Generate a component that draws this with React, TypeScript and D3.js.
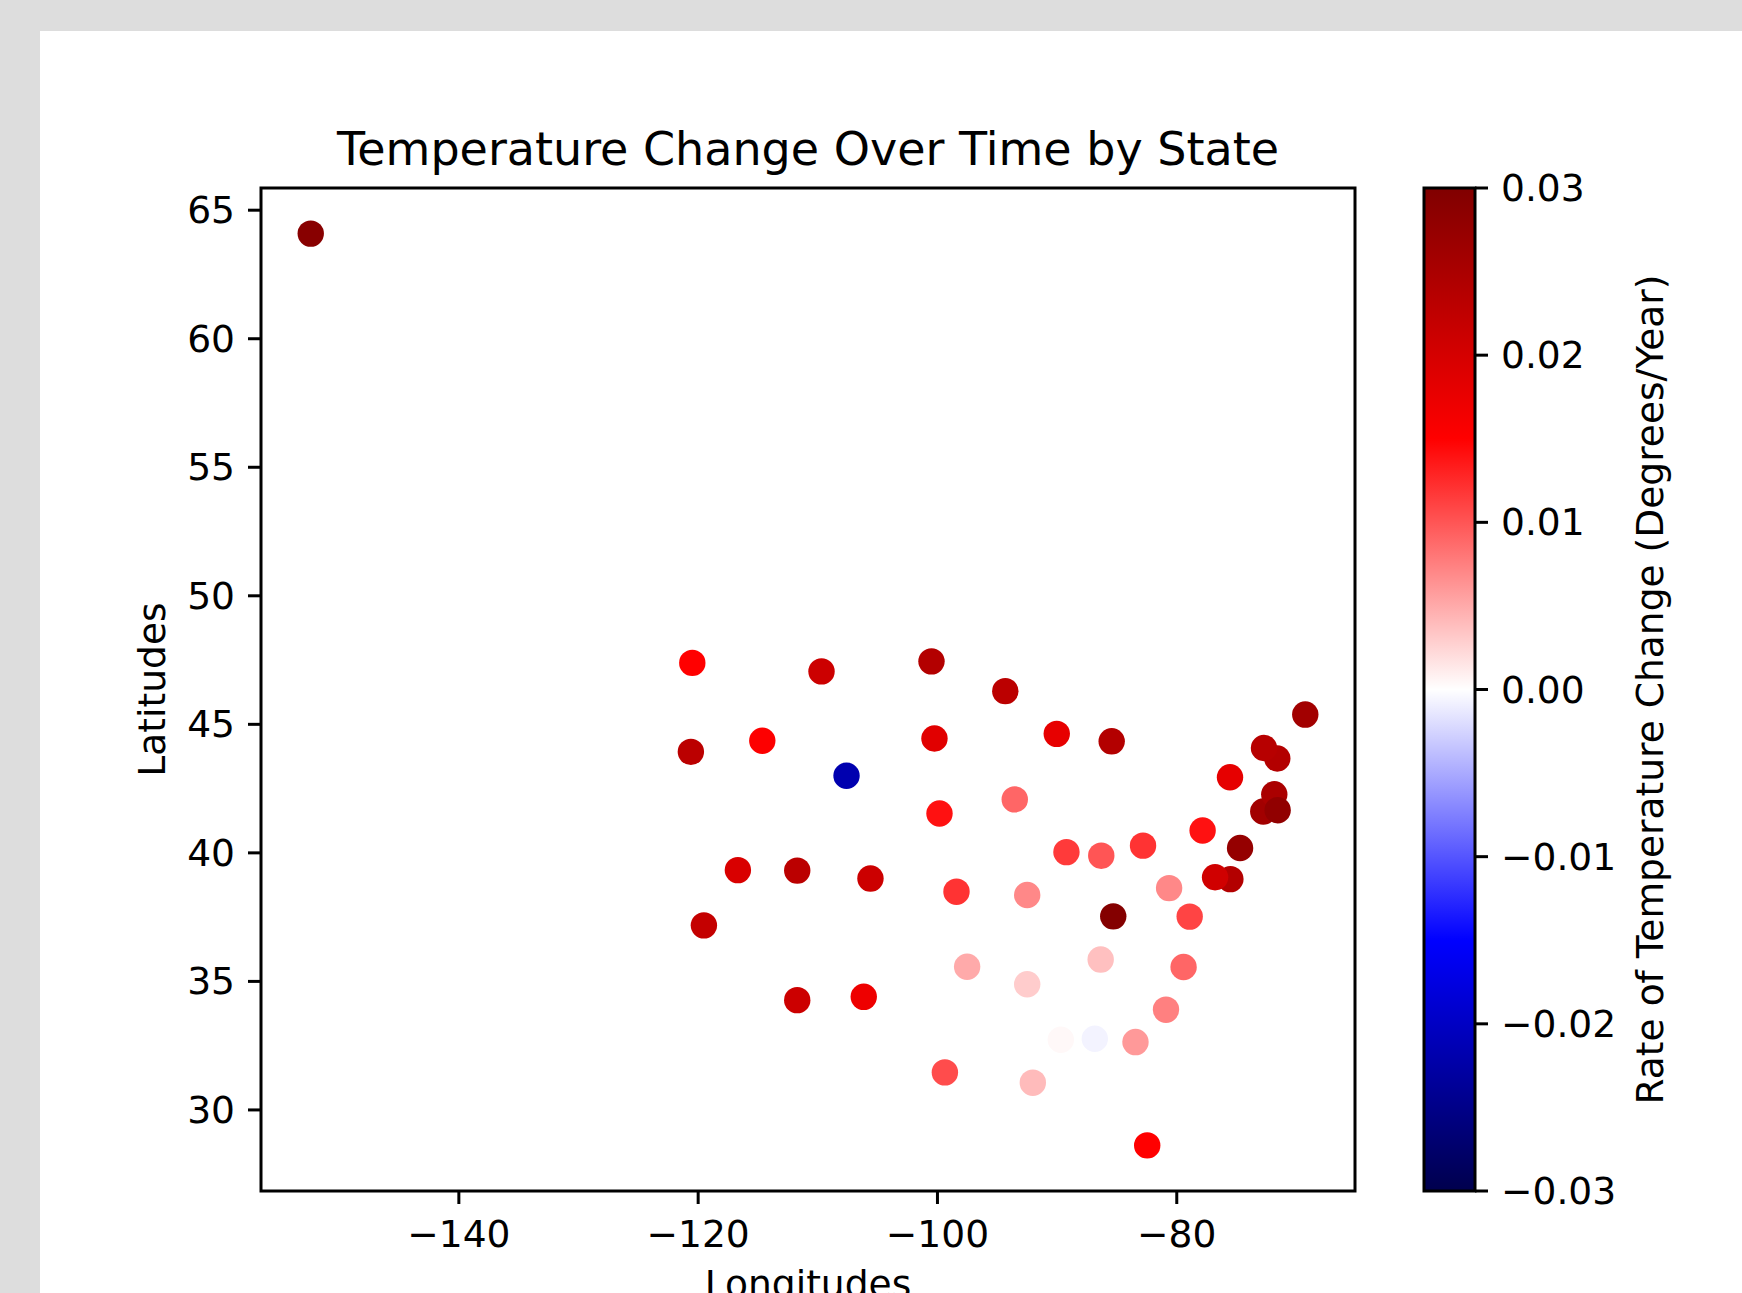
import { extent, scaleLinear } from "d3"

const states = [
  "Alabama", "Alaska", "Arizona", "Arkansas", "California", "Colorado", "Connecticut",
  "Delaware", "Florida", "Georgia", "Idaho", "Illinois", "Indiana", "Iowa", "Kansas",
  "Kentucky", "Louisiana", "Maine", "Maryland", "Massachusetts", "Michigan", "Minnesota",
  "Mississippi", "Missouri", "Montana", "Nebraska", "Nevada", "New Hampshire", "New Jersey",
  "New Mexico", "New York", "North Carolina", "North Dakota", "Ohio", "Oklahoma", "Oregon",
  "Pennsylvania", "Rhode Island", "South Carolina", "South Dakota", "Tennessee", "Texas",
  "Utah", "Vermont", "Virginia", "Washington", "West Virginia", "Wisconsin", "Wyoming"
]
const lons = [
  -86.85, -152.38, -111.72, -92.5, -119.52, -105.6, -72.77,
  -75.52, -82.47, -83.45, -114.64, -89.22, -86.31, -93.54, -98.41,
  -85.31, -92.03, -69.26, -76.8, -71.85, -85.44, -94.33,
  -89.69, -92.5, -109.69, -99.83, -116.68, -71.6, -74.71,
  -106.16, -75.55, -79.43, -100.5, -82.82, -97.52, -120.61,
  -77.84, -71.57, -80.9, -100.25, -86.36, -99.38,
  -111.72, -72.71, -78.92, -120.49, -80.64, -90.03, -107.6
]
const lats = [
  32.77, 64.09, 34.27, 34.89, 37.18, 39.0, 41.61,
  38.98, 28.62, 32.64, 44.36, 40.03, 39.89, 42.08, 38.49,
  37.53, 31.06, 45.38, 39.05, 42.28, 44.34, 46.29,
  32.73, 38.36, 47.06, 41.53, 39.33, 43.67, 40.19,
  34.4, 42.94, 35.56, 47.45, 40.28, 35.57, 43.93,
  40.87, 41.66, 33.9, 44.45, 35.85, 31.46,
  39.31, 44.08, 37.52, 47.39, 38.63, 44.63, 43.0
]
const rates = [
  -0.0007, 0.029, 0.021, 0.003, 0.022, 0.021, 0.026,
  0.024, 0.015, 0.006, 0.0152, 0.0116, 0.01, 0.009, 0.012,
  0.0295, 0.004, 0.026, 0.0205, 0.025, 0.024, 0.023,
  0.0004, 0.007, 0.021, 0.014, 0.0195, 0.024, 0.0275,
  0.017, 0.018, 0.009, 0.024, 0.012, 0.005, 0.023,
  0.014, 0.028, 0.0075, 0.0185, 0.0037, 0.0105,
  0.023, 0.0235, 0.011, 0.015, 0.007, 0.0178, -0.0217
]

const xTicks = [-140, -120, -100, -80]
const yTicks = [30, 35, 40, 45, 50, 55, 60, 65]
const cbarTicks = [-0.03, -0.02, -0.01, 0.0, 0.01, 0.02, 0.03]

// matplotlib "seismic"
const seismicDomain = [-0.03, -0.015, 0, 0.015, 0.03]
const seismicColors = ["rgb(0,0,77)", "rgb(0,0,255)", "rgb(255,255,255)", "rgb(255,0,0)", "rgb(128,0,0)"]

const font = "DejaVu Sans, sans-serif"
const minus = (s: string) => s.replace("-", "\u2212")

function padded(values: number[]) {
  const [lo, hi] = extent(values) as [number, number]
  const m = (hi - lo) * 0.05
  return [lo - m, hi + m]
}

export default function App() {
  const W = 1742
  const H = 1293
  const plot = { left: 261, right: 1355, top: 188, bottom: 1191 }
  const cbar = { left: 1424, right: 1475 }
  const tickLen = 13
  const lw = 3
  const fs = 37.6

  const x = scaleLinear().domain(padded(lons)).range([plot.left, plot.right])
  const y = scaleLinear().domain(padded(lats)).range([plot.bottom, plot.top])
  const color = scaleLinear<string>().domain(seismicDomain).range(seismicColors)
  const cy = scaleLinear().domain([-0.03, 0.03]).range([plot.bottom, plot.top])

  return (
    <svg width={W} height={H} style={{ position: "absolute", left: 0, top: 0 }} fontFamily={font}>
      <defs>
        <linearGradient id="seismic" x1="0" y1="1" x2="0" y2="0">
          {seismicDomain.map((d, i) => (
            <stop key={d} offset={`${(cy(d) - plot.bottom) / (plot.top - plot.bottom) * 100}%`} stopColor={seismicColors[i]} />
          ))}
        </linearGradient>
        <clipPath id="plotArea">
          <rect x={plot.left} y={plot.top} width={plot.right - plot.left} height={plot.bottom - plot.top} />
        </clipPath>
      </defs>
      <rect x={0} y={0} width={W} height={H} fill="#dddddd" />
      <rect x={40} y={31} width={W - 40} height={H - 31} fill="#ffffff" />

      <text x={(plot.left + plot.right) / 2} y={165} textAnchor="middle" fontSize={46} fill="black">
        Temperature Change Over Time by State
      </text>

      <g clipPath="url(#plotArea)">
        {states.map((s, i) => (
          <circle key={s} cx={x(lons[i])} cy={y(lats[i])} r={13.2} fill={color(rates[i])} />
        ))}
      </g>

      <rect x={plot.left} y={plot.top} width={plot.right - plot.left} height={plot.bottom - plot.top}
        fill="none" stroke="black" strokeWidth={lw} />

      {xTicks.map(t => (
        <g key={t}>
          <line x1={x(t)} x2={x(t)} y1={plot.bottom} y2={plot.bottom + tickLen} stroke="black" strokeWidth={lw} />
          <text x={x(t)} y={1247} textAnchor="middle" fontSize={fs}>{minus(String(t))}</text>
        </g>
      ))}
      {yTicks.map(t => (
        <g key={t}>
          <line x1={plot.left - tickLen} x2={plot.left} y1={y(t)} y2={y(t)} stroke="black" strokeWidth={lw} />
          <text x={plot.left - tickLen - 13} y={y(t)} textAnchor="end" dominantBaseline="central" fontSize={fs}>{t}</text>
        </g>
      ))}

      <text x={(plot.left + plot.right) / 2} y={1297} textAnchor="middle" fontSize={fs}>Longitudes</text>
      <text transform={`translate(165, ${(plot.top + plot.bottom) / 2}) rotate(-90)`} textAnchor="middle" fontSize={fs}>
        Latitudes
      </text>

      <rect x={cbar.left} y={plot.top} width={cbar.right - cbar.left} height={plot.bottom - plot.top}
        fill="url(#seismic)" stroke="black" strokeWidth={lw} />
      {cbarTicks.map(t => (
        <g key={t}>
          <line x1={cbar.right} x2={cbar.right + tickLen} y1={cy(t)} y2={cy(t)} stroke="black" strokeWidth={lw} />
          <text x={cbar.right + tickLen + 13} y={cy(t)} dominantBaseline="central" fontSize={fs}>
            {minus(t.toFixed(2))}
          </text>
        </g>
      ))}
      <text transform={`translate(1663, ${(plot.top + plot.bottom) / 2}) rotate(-90)`} textAnchor="middle" fontSize={fs}>
        Rate of Temperature Change (Degrees/Year)
      </text>
    </svg>
  )
}
